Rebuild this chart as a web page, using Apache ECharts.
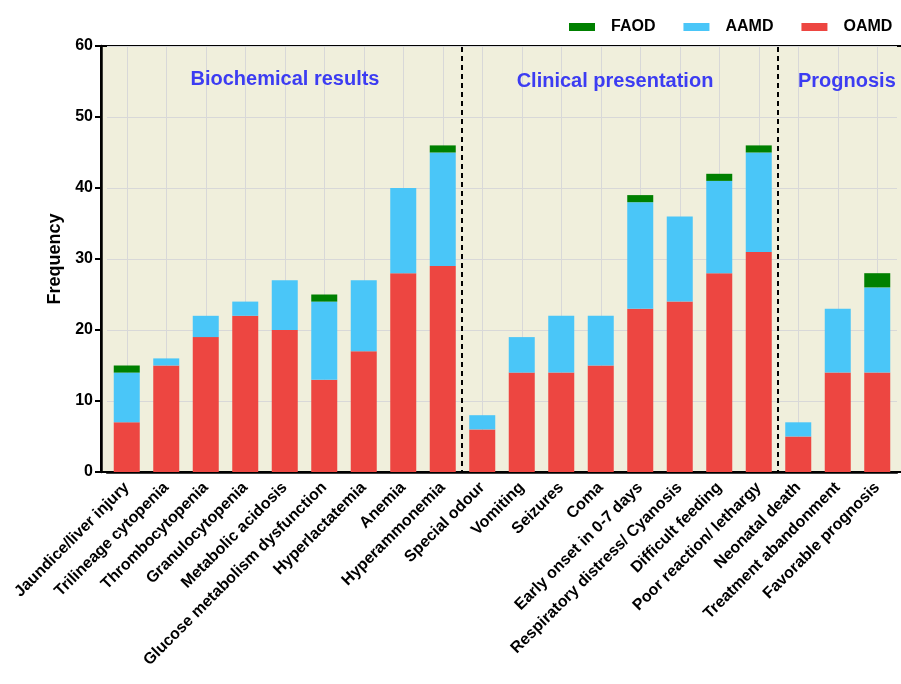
<!DOCTYPE html>
<html>
<head>
<meta charset="utf-8">
<script src="https://cdn.jsdelivr.net/npm/echarts@6/dist/echarts.min.js"></script>
<style>
  html, body { margin: 0; padding: 0; background: #fff; }
  #chart { width: 901px; height: 684px; }
</style>
</head>
<body>
<div id="chart"></div>
<script>
// categories, three groups
const categories = [
  'Jaundice/liver injury', 'Trilineage cytopenia', 'Thrombocytopenia', 'Granulocytopenia',
  'Metabolic acidosis', 'Glucose metabolism dysfunction', 'Hyperlactatemia', 'Anemia',
  'Hyperammonemia', 'Special odour', 'Vomiting', 'Seizures', 'Coma',
  'Early onset in 0-7 days', 'Respiratory distress/ Cyanosis', 'Difficult feeding',
  'Poor reaction/ lethargy', 'Neonatal death', 'Treatment abandonment', 'Favorable prognosis'
];
const oamd = [7, 15, 19, 22, 20, 13, 17, 28, 29, 6, 14, 14, 15, 23, 24, 28, 31, 5, 14, 14];
const aamd = [7, 1, 3, 2, 7, 11, 10, 12, 16, 2, 5, 8, 7, 15, 12, 13, 14, 2, 9, 12];
const faod = [1, 0, 0, 0, 0, 1, 0, 0, 1, 0, 0, 0, 0, 1, 0, 1, 1, 0, 0, 2];
const yTicks = [0, 10, 20, 30, 40, 50, 60];

const FONT = '"Liberation Sans", Arial, sans-serif';
const BG = '#f0efdc';
const GROUP_COLOR = '#3c3cf2';

var chart = echarts.init(document.getElementById('chart'));

chart.setOption({
  animation: false,
  backgroundColor: '#fff',
  textStyle: { fontFamily: FONT },
  grid: { left: 107, top: 46, width: 790, bottom: 212, containLabel: false },
  legend: {
    data: ['FAOD', 'AAMD', 'OAMD'],
    left: 564, top: 14, width: 400,
    itemWidth: 26, itemHeight: 8, itemGap: 28,
    icon: 'rect',
    textStyle: { fontFamily: FONT, fontWeight: 'bold', fontSize: 16, color: '#000', padding: [0, 0, 0, 11] }
  },
  graphic: [
    {
      type: 'rect', z: -1, silent: true,
      shape: { x: 101, y: 46, width: 830, height: 426 },
      style: { fill: BG, stroke: '#000', lineWidth: 2 }
    },
    {
      type: 'line', z: 10, silent: true,
      shape: { x1: 462, y1: 47, x2: 462, y2: 471 },
      style: { stroke: '#000', lineWidth: 2, lineDash: [5, 4] }
    },
    {
      type: 'line', z: 10, silent: true,
      shape: { x1: 778, y1: 47, x2: 778, y2: 471 },
      style: { stroke: '#000', lineWidth: 2, lineDash: [5, 4] }
    },
    {
      type: 'text', z: 10, x: 285, y: 79,
      style: { text: 'Biochemical results', fill: GROUP_COLOR, font: 'bold 20px ' + FONT, textAlign: 'center', textVerticalAlign: 'middle' }
    },
    {
      type: 'text', z: 10, x: 615, y: 81,
      style: { text: 'Clinical presentation', fill: GROUP_COLOR, font: 'bold 20px ' + FONT, textAlign: 'center', textVerticalAlign: 'middle' }
    },
    {
      type: 'text', z: 10, x: 798, y: 81,
      style: { text: 'Prognosis', fill: GROUP_COLOR, font: 'bold 20px ' + FONT, textAlign: 'left', textVerticalAlign: 'middle' }
    }
  ],
  xAxis: {
    type: 'category',
    data: categories,
    axisLine: { lineStyle: { color: '#000', width: 2.5 } },
    axisTick: { alignWithLabel: true, length: 6, lineStyle: { color: '#000', width: 2 } },
    splitLine: { show: true, alignWithLabel: true, lineStyle: { color: '#d8d8d8', width: 1 } },
    axisLabel: {
      rotate: 45, interval: 0, margin: 13,
      fontFamily: FONT, fontSize: 16, fontWeight: 'bold', color: '#000'
    }
  },
  yAxis: {
    type: 'value',
    min: yTicks[0], max: yTicks[yTicks.length - 1], interval: 10,
    offset: 6,
    name: 'Frequency',
    nameLocation: 'middle',
    nameGap: 37,
    nameTextStyle: { fontFamily: FONT, fontSize: 18, fontWeight: 'bold', color: '#000' },
    axisLine: { show: true, lineStyle: { color: '#000', width: 2.5 } },
    axisTick: { show: true, length: 6, lineStyle: { color: '#000', width: 2 } },
    splitLine: { show: true, lineStyle: { color: '#d8d8d8', width: 1 } },
    axisLabel: { fontFamily: FONT, fontSize: 16, fontWeight: 'bold', color: '#000', margin: 8 }
  },
  series: [
    { name: 'OAMD', type: 'bar', stack: 'total', barWidth: 26, data: oamd, itemStyle: { color: '#ed4641' } },
    { name: 'AAMD', type: 'bar', stack: 'total', barWidth: 26, data: aamd, itemStyle: { color: '#4ac6f8' } },
    { name: 'FAOD', type: 'bar', stack: 'total', barWidth: 26, data: faod, itemStyle: { color: '#008000' } }
  ]
});
</script>
</body>
</html>
